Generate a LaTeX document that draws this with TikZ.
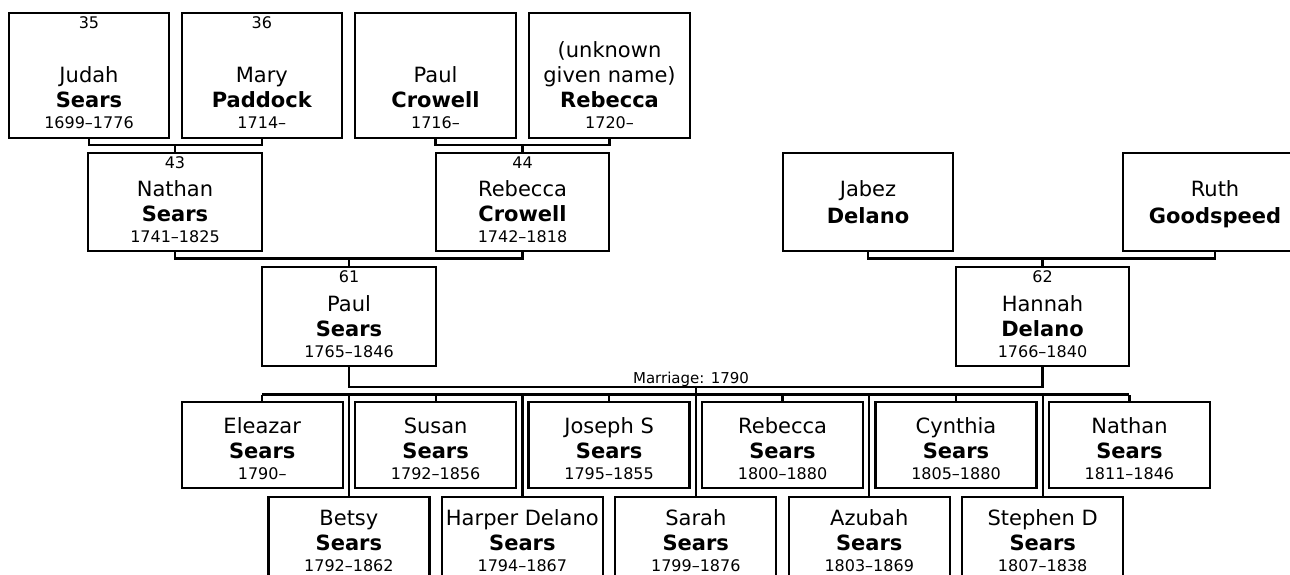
\documentclass[tikz,border=0pt]{standalone}
\usepackage{fontspec}
\setmainfont{DejaVu Sans}
\usetikzlibrary{calc}
\tikzset{
  box/.style={draw, line width=2.3pt, rectangle, inner sep=0pt},
  gtxt/.style={anchor=base, inner sep=0pt, font=\fontsize{21}{24}\selectfont},
  stxt/.style={anchor=base, inner sep=0pt, font=\fontsize{21}{24}\selectfont\bfseries},
  dtxt/.style={anchor=base, inner sep=0pt, font=\fontsize{16}{18}\selectfont},
  mtxt/.style={anchor=base, inner sep=0pt, font=\fontsize{15}{18}\selectfont},
  link/.style={line width=2.3pt},
}
\newcommand\person[5]{%
  \node[box, minimum width={#4-#2}, minimum height={#5-#3}] (#1) at ({(#2+#4)/2},{(#3+#5)/2}) {};}
\newcommand\plines[4]{%
  \node[gtxt] (#1-g) at ([yshift=56pt]#1.south) {#2};
  \node[stxt] (#1-s) at ([yshift=31pt]#1.south) {#3};
  \node[dtxt] (#1-d) at ([yshift=10pt]#1.south) {#4};}
\newcommand\pnum[2]{%
  \node[dtxt] (#1-n) at ([yshift=-17pt]#1.north) {#2};}
\begin{document}
\begin{tikzpicture}[x=1pt, y=-1pt]
\useasboundingbox (0,0) rectangle (1290,575);
\clip (0,0) rectangle (1290,575);
% generation 1
\person{judah}{9}{12.7}{169}{137.7}
\person{mary}{181.7}{12.7}{342}{137.7}
\person{pcrow}{355}{12.7}{516}{137.7}
\person{rebu}{529}{12.7}{690}{137.7}
\plines{judah}{Judah}{Sears}{1699–1776}\pnum{judah}{35}
\plines{mary}{Mary}{Paddock}{1714–}\pnum{mary}{36}
\plines{pcrow}{Paul}{Crowell}{1716–}
\plines{rebu}{given name)}{Rebecca}{1720–}
\node[gtxt] (rebu-g0) at ([yshift=81pt]rebu.south) {(unknown};
% generation 2
\person{nathan}{88}{152.7}{262}{251}
\person{rebc}{436}{152.7}{609}{251}
\person{jabez}{783}{152.7}{953}{251}
\person{ruth}{1123}{152.7}{1307}{251}
\plines{nathan}{Nathan}{Sears}{1741–1825}\pnum{nathan}{43}
\plines{rebc}{Rebecca}{Crowell}{1742–1818}\pnum{rebc}{44}
\node[gtxt] (jabez-g) at ([yshift=56pt]jabez.south) {Jabez};
\node[stxt] (jabez-s) at ([yshift=29pt]jabez.south) {Delano};
\node[gtxt] (ruth-g) at ([yshift=56pt]ruth.south) {Ruth};
\node[stxt] (ruth-s) at ([yshift=29pt]ruth.south) {Goodspeed};
% generation 3
\person{paul}{262}{266.7}{436}{366}
\person{hannah}{956}{266.7}{1129}{366}
\plines{paul}{Paul}{Sears}{1765–1846}\pnum{paul}{61}
\plines{hannah}{Hannah}{Delano}{1766–1840}\pnum{hannah}{62}
% children row 1
\person{eleazar}{181.7}{402}{342.7}{488}
\person{susan}{355.15}{402}{516.15}{488}
\person{joseph}{528.6}{402}{689.6}{488}
\person{rebecca}{702.05}{402}{863.05}{488}
\person{cynthia}{875.5}{402}{1036.5}{488}
\person{nathanj}{1048.95}{402}{1209.95}{488}
\plines{eleazar}{Eleazar}{Sears}{1790–}
\plines{susan}{Susan}{Sears}{1792–1856}
\plines{joseph}{Joseph S}{Sears}{1795–1855}
\plines{rebecca}{Rebecca}{Sears}{1800–1880}
\plines{cynthia}{Cynthia}{Sears}{1805–1880}
\plines{nathanj}{Nathan}{Sears}{1811–1846}
% children row 2
\person{betsy}{268.4}{497}{429.4}{580}
\person{harper}{441.85}{497}{602.85}{580}
\person{sarah}{615.3}{497}{776.3}{580}
\person{azubah}{788.75}{497}{949.75}{580}
\person{stephen}{962.2}{497}{1123.2}{580}
\plines{betsy}{Betsy}{Sears}{1792–1862}
\plines{harper}{Harper Delano}{Sears}{1794–1867}
\plines{sarah}{Sarah}{Sears}{1799–1876}
\plines{azubah}{Azubah}{Sears}{1803–1869}
\plines{stephen}{Stephen D}{Sears}{1807–1838}
% bar levels
\coordinate (bar1) at (0,145);
\coordinate (bar2) at (0,258.5);
\coordinate (mline) at (0,386.7);
\coordinate (sib) at (0,394.5);
% connectors generation 1 -> 2
\draw[link] (judah.south) |- (nathan.north |- bar1) -| (mary.south);
\draw[link] (nathan.north) -- (nathan.north |- bar1);
\draw[link] (pcrow.south) |- (rebc.north |- bar1) -| (rebu.south);
\draw[link] (rebc.north) -- (rebc.north |- bar1);
% generation 2 -> 3
\draw[link] (nathan.south) |- (paul.north |- bar2) -| (rebc.south);
\draw[link] (paul.north) -- (paul.north |- bar2);
\draw[link] (jabez.south) |- (hannah.north |- bar2) -| (ruth.south);
\draw[link] (hannah.north) -- (hannah.north |- bar2);
% marriage
\draw[link] (paul.south) |- (hannah.south |- mline) -- (hannah.south);
\node[mtxt] (mlabel) at (691,383) {Marriage: 1790};
\coordinate (mid) at ($(paul.south |- mline)!0.5!(hannah.south |- mline)$);
\draw[link] (mid) -- (mid |- sib);
\draw[link] (eleazar.north |- sib) -- (nathanj.north |- sib);
\foreach \k in {eleazar,susan,joseph,rebecca,cynthia,nathanj,betsy,harper,sarah,azubah,stephen}{
  \draw[link] (\k.north) -- (\k.north |- sib);
}
\end{tikzpicture}
\end{document}
